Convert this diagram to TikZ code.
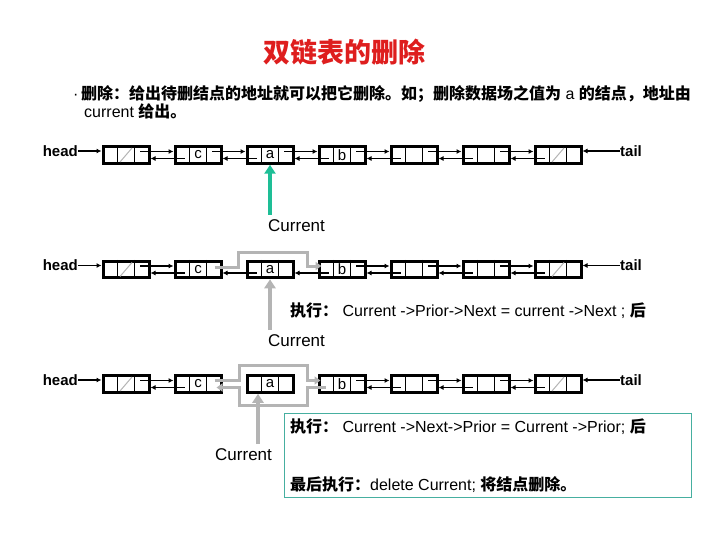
\documentclass[tikz,border=0pt]{standalone}
\usepackage{fontspec}
\setmainfont{Liberation Sans}
\newfontfamily\cjk{Noto Sans CJK SC}
\usetikzlibrary{arrows.meta,calc}
\definecolor{titlered}{RGB}{222,30,30}
\definecolor{curteal}{RGB}{30,190,150}
\definecolor{boxteal}{RGB}{70,175,160}
\definecolor{ptrgray}{RGB}{180,180,180}
\tikzset{
 lnode/.style={draw, line width=3pt, minimum width=46pt, minimum height=16.5pt, inner sep=0pt, font=\fontsize{15}{15}\selectfont},
 link/.style={line width=1.8pt, -{Latex[length=5pt,width=5pt]}},
 ptr/.style={line width=1.8pt},
 curarrow/.style={line width=4pt, -{Triangle[length=9pt,width=11pt]}},
 grayptr/.style={ptrgray, line width=3pt},
 lbl/.style={font=\fontsize{16}{16}\selectfont, inner sep=0pt},
 curlbl/.style={font=\fontsize{17}{17}\selectfont, inner sep=0pt},
 endlbl/.style={font=\bfseries\fontsize{15}{15}\selectfont, inner sep=0pt},
}
\newcommand\cellsof[1]{%
 \draw[line width=1.2pt] ([xshift=-8.2pt]#1.north) -- ([xshift=-8.2pt]#1.south)
   ([xshift=8.2pt]#1.north) -- ([xshift=8.2pt]#1.south);}
\newcommand\lptr[1]{\draw[ptr] ([yshift=-3.5pt]#1.west) -- ++(11pt,0pt);}
\newcommand\rptr[1]{\draw[ptr] ([yshift=3.5pt]#1.east) -- ++(-11pt,0pt);}
\newcommand\nulls[1]{\draw[ptrgray, line width=1pt] ([shift={(-6pt,-7pt)}]#1.center) -- ([shift={(6pt,7pt)}]#1.center);}
\newcommand\fwd[2]{\draw[link] ([yshift=3.5pt]#1.east) -- ([yshift=3.5pt]#2.west);}
\newcommand\bwd[2]{\draw[link] ([yshift=-3.5pt]#2.west) -- ([yshift=-3.5pt]#1.east);}
\newcommand\zh[1]{{\cjk\bfseries #1}}
\begin{document}
\begin{tikzpicture}[x=1pt,y=-1pt]
\useasboundingbox (0,0) rectangle (720,540);
% title and intro
\node[font=\cjk\bfseries\fontsize{27}{27}\selectfont, text=titlered, inner sep=0pt] (title) at (344,52) {双链表的删除};
\node[font=\fontsize{16}{16}\selectfont, inner sep=0pt, anchor=west] (intro1) at (73,94) {·\,\zh{删除：给出待删结点的地址就可以把它删除。如；删除数据场之值为} a \zh{的结点，地址由}};
\node[font=\fontsize{16}{16}\selectfont, inner sep=0pt, anchor=west] (intro2) at (84,111) {current \zh{给出。}};

% ---------- row 1 ----------
\foreach \i/\t in {1/,2/c,3/a,4/b,5/,6/,7/} \node[lnode] (a\i) at ({54+72*\i},155) {\t};
\foreach \i in {1,...,7} {\cellsof{a\i}}
\nulls{a1}\nulls{a7}
\foreach \i in {2,...,7} {\lptr{a\i}}
\foreach \i in {1,...,6} {\rptr{a\i}}
\foreach \i [evaluate=\i as \j using int(\i+1)] in {1,...,6} {\fwd{a\i}{a\j}\bwd{a\i}{a\j}}
\node[endlbl, anchor=east] (h1) at (78,151) {head};
\draw[link] (h1.east) -- (h1.east -| a1.west);
\node[endlbl, anchor=west] (t1) at (620,151) {tail};
\draw[link] (t1.west) -- (t1.west -| a7.east);
\node[curlbl, anchor=west] (cur1) at (268,226) {Current};
\coordinate (k1) at (270,215);
\draw[curarrow, curteal] (k1) -- (a3.south);

% ---------- row 2 ----------
\foreach \i/\t in {1/,2/c,3/a,4/b,5/,6/,7/} \node[lnode] (b\i) at ({54+72*\i},269.5) {\t};
\foreach \i in {1,...,7} {\cellsof{b\i}}
\nulls{b1}\nulls{b7}
\foreach \i in {2,...,7} {\lptr{b\i}}
\foreach \i in {1,4,5,6} {\rptr{b\i}}
\foreach \i [evaluate=\i as \j using int(\i+1)] in {1,4,5,6} {\fwd{b\i}{b\j}\bwd{b\i}{b\j}}
\bwd{b2}{b3}\bwd{b3}{b4}
\draw[grayptr, -{Triangle[length=6pt,width=8pt]}] ([xshift=-8pt,yshift=2pt]b2.east) -- ++(24pt,0pt) |- (307,252) |- ([xshift=4pt,yshift=3.5pt]b4.west);
\node[endlbl, anchor=east] (h2) at (78,265.5) {head};
\draw[link] (h2.east) -- (h2.east -| b1.west);
\node[endlbl, anchor=west] (t2) at (620,265.5) {tail};
\draw[link] (t2.west) -- (t2.west -| b7.east);
\node[curlbl, anchor=west] (cur2) at (268,341) {Current};
\coordinate (k2) at (270,330);
\draw[curarrow, ptrgray] (k2) -- (b3.south);
\node[lbl, anchor=west] (x2) at (290,311) {\zh{执行：} Current ->Prior->Next = current ->Next ; \zh{后}};

% ---------- row 3 ----------
\foreach \i/\t in {1/,2/c,3/a,4/b,5/,6/,7/} \node[lnode] (c\i) at ({54+72*\i},384) {\t};
\foreach \i in {1,...,7} {\cellsof{c\i}}
\nulls{c1}\nulls{c7}
\foreach \i in {2,5,6,7} {\lptr{c\i}}
\foreach \i in {1,4,5,6} {\rptr{c\i}}
\foreach \i [evaluate=\i as \j using int(\i+1)] in {1,4,5,6} {\fwd{c\i}{c\j}\bwd{c\i}{c\j}}
\draw[grayptr, -{Triangle[length=6pt,width=8pt]}] ([xshift=-8pt,yshift=3.5pt]c2.east) -- (239,380.5) |- (307,365) |- ([xshift=3pt,yshift=3.5pt]c4.west);
\draw[grayptr, -{Triangle[length=6pt,width=8pt]}] ([xshift=8pt,yshift=-3.5pt]c4.west) -- (307,387.5) |- (239,405) |- ([xshift=-6pt,yshift=-3.5pt]c2.east);
\node[endlbl, anchor=east] (h3) at (78,380) {head};
\draw[link] (h3.east) -- (h3.east -| c1.west);
\node[endlbl, anchor=west] (t3) at (620,380) {tail};
\draw[link] (t3.west) -- (t3.west -| c7.east);
\node[curlbl, anchor=west] (cur3) at (215,455) {Current};
\coordinate (k3) at (258,444);
\draw[curarrow, ptrgray] (k3) -- ([xshift=-12pt]c3.south);
\node[draw=boxteal, line width=1pt, minimum width=407pt, minimum height=84pt, anchor=north west, inner sep=0pt] (tb) at (284,413) {};
\node[lbl, anchor=west] (x3) at (290,427) {\zh{执行：} Current ->Next->Prior = Current ->Prior; \zh{后}};
\node[lbl, anchor=west] (x4) at (290,485) {\zh{最后执行：}delete Current; \zh{将结点删除。}};
\end{tikzpicture}
\end{document}
